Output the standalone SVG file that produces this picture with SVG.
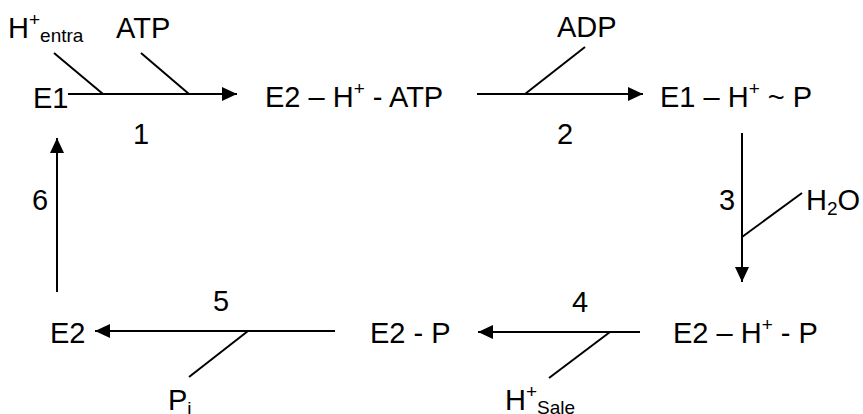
<svg xmlns="http://www.w3.org/2000/svg" width="863" height="414" viewBox="0 0 863 414">
<style>
text{font-family:"Liberation Sans",Arial,sans-serif;font-size:29px;fill:#000}
.sm{font-size:19px}
.ln{stroke:#000;stroke-width:2;fill:none}
.ar{stroke:#000;stroke-width:2;fill:none;marker-end:url(#ah)}
</style>
<defs>
<marker id="ah" markerUnits="userSpaceOnUse" markerWidth="16" markerHeight="16" refX="15" refY="7" orient="auto">
<path d="M0,0 L15,7 L0,14 Z" fill="#000"/>
</marker>
</defs>
<rect width="863" height="414" fill="#fff"/>
<g id="connectors">
<line class="ar" x1="68" y1="94" x2="237" y2="94"/>
<line class="ln" x1="54" y1="53" x2="103" y2="94"/>
<line class="ln" x1="141" y1="53" x2="189" y2="94"/>
<line class="ar" x1="477" y1="94" x2="643" y2="94"/>
<line class="ln" x1="585" y1="47" x2="525" y2="94"/>
<line class="ar" x1="742" y1="133" x2="742" y2="282"/>
<line class="ln" x1="802" y1="193" x2="742" y2="237"/>
<line class="ar" x1="640" y1="332" x2="478" y2="332"/>
<line class="ln" x1="610" y1="332" x2="549" y2="378"/>
<line class="ar" x1="335" y1="331" x2="95" y2="331"/>
<line class="ln" x1="248" y1="331" x2="189" y2="377"/>
<line class="ar" x1="57" y1="292" x2="57" y2="138"/>
<text x="141" y="144" text-anchor="middle">1</text>
<text x="565" y="144" text-anchor="middle">2</text>
<text x="727" y="210" text-anchor="middle">3</text>
<text x="580" y="312" text-anchor="middle">4</text>
<text x="221" y="311" text-anchor="middle">5</text>
<text x="40" y="210" text-anchor="middle">6</text>
<text x="8" y="38">H<tspan class="sm" dy="-12">+</tspan><tspan class="sm" dy="16">entra</tspan></text>
<text x="116" y="38">ATP</text>
<text x="557" y="37">ADP</text>
<text x="806" y="210">H<tspan class="sm" dy="5">2</tspan><tspan dy="-5">O</tspan></text>
<text x="505" y="410">H<tspan class="sm" dy="-12">+</tspan><tspan class="sm" dy="16">Sale</tspan></text>
<text x="168" y="410">P<tspan class="sm" dy="5">i</tspan></text>
</g>
<g id="E1"><text x="33" y="108">E1</text></g>
<g id="E2-H-ATP"><text x="265" y="107">E2 – H<tspan class="sm" dy="-12">+</tspan><tspan dy="12"> - ATP</tspan></text></g>
<g id="E1-H-P"><text x="660" y="107">E1 – H<tspan class="sm" dy="-12">+</tspan><tspan dy="12"> ~ P</tspan></text></g>
<g id="E2-H-P"><text x="673" y="343">E2 – H<tspan class="sm" dy="-12">+</tspan><tspan dy="12"> - P</tspan></text></g>
<g id="E2-P"><text x="370" y="343">E2 - P</text></g>
<g id="E2"><text x="50" y="343">E2</text></g>
</svg>
